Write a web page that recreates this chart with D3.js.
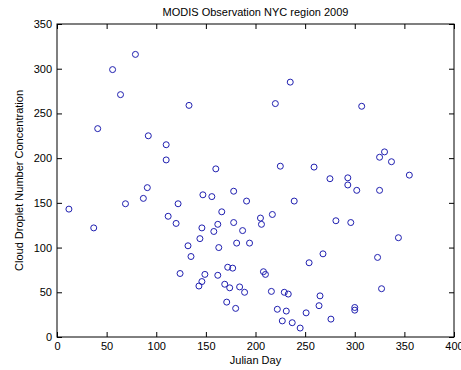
<!DOCTYPE html>
<html lang="en">
<head>
    <meta charset="UTF-8">
    <title>MODIS Observation NYC region 2009</title>
    <script src="https://d3js.org/d3.v7.min.js"></script>
    <style type="text/css">
        body {
            margin: 0;
            background: #ffffff;
        }
        svg {
            display: block;
            font-family: "Liberation Sans", Arial, Helvetica, sans-serif;
        }
    </style>
</head>
<body>
    <div id="chart"></div>
    <script type="text/javascript">
        // Julian day of each observation and its droplet concentration
        const julianDay = [
            12, 37, 41, 56, 64, 69, 79, 87, 91, 92,
            110, 110, 112, 120, 122, 124, 132, 133, 135, 143,
            144, 146, 146, 147, 149, 156, 158, 160, 162, 162,
            163, 166, 169, 171, 172, 174, 177, 178, 178, 180,
            181, 184, 187, 189, 191, 194, 205, 206, 208, 210,
            216, 217, 220, 222, 225, 227, 229, 231, 233, 235,
            237, 239, 245, 251, 254, 259, 264, 265, 268, 275,
            276, 281, 293, 293, 296, 300, 300, 302, 307, 323,
            325, 325, 327, 330, 337, 344, 355
        ];
        const concentration = [
            143, 122, 233, 299, 271, 149, 316, 155, 167, 225,
            215, 198, 135, 127, 149, 71, 102, 259, 90, 57,
            110, 122, 62, 159, 70, 157, 118, 188, 126, 69,
            100, 140, 59, 39, 78, 55, 77, 163, 128, 32,
            105, 56, 119, 50, 152, 105, 133, 126, 73, 70,
            51, 137, 261, 31, 191, 18, 50, 29, 48, 285,
            16, 152, 10, 27, 83, 190, 35, 46, 93, 177,
            20, 130, 178, 170, 128, 33, 30, 164, 258, 89,
            201, 164, 54, 207, 196, 111, 181
        ];
        const xTicks = [0, 50, 100, 150, 200, 250, 300, 350, 400];
        const yTicks = [0, 50, 100, 150, 200, 250, 300, 350];

        const points = julianDay.map((d, i) => ({day: d, value: concentration[i]}));

        const W = 461, H = 370;
        const margin = {top: 24, right: 7, bottom: 33, left: 57};
        const width = W - margin.left - margin.right,
              height = H - margin.top - margin.bottom;

        const svg = d3.select('#chart')
                      .append('svg')
                      .attr('width', W)
                      .attr('height', H);

        const g = svg.append('g')
                     .attr('transform', `translate(${margin.left},${margin.top})`);

        const x = d3.scaleLinear().domain([0, 400]).range([0, width]);
        const y = d3.scaleLinear().domain([0, 350]).range([height, 0]);

        const tickLen = 5;

        // ticks point inward, no domain path (the box is drawn below)
        const styleAxis = sel => {
            sel.select('.domain').remove();
            sel.selectAll('line').attr('stroke', '#000');
            sel.selectAll('text')
               .attr('fill', '#000')
               .style('font-size', '11px');
        };

        g.append('g')
         .attr('transform', `translate(0,${height})`)
         .call(d3.axisBottom(x).tickValues(xTicks).tickSize(-tickLen).tickPadding(5))
         .call(styleAxis);

        g.append('g')
         .call(d3.axisLeft(y).tickValues(yTicks).tickSize(-tickLen).tickPadding(5))
         .call(styleAxis);

        // top / right ticks without labels
        g.append('g')
         .call(d3.axisTop(x).tickValues(xTicks).tickSize(-tickLen).tickFormat(''))
         .call(styleAxis);

        g.append('g')
         .attr('transform', `translate(${width},0)`)
         .call(d3.axisRight(y).tickValues(yTicks).tickSize(-tickLen).tickFormat(''))
         .call(styleAxis);

        // axes box
        g.append('rect')
         .attr('x', 0)
         .attr('y', 0)
         .attr('width', width)
         .attr('height', height)
         .attr('fill', 'none')
         .attr('stroke', '#000')
         .attr('stroke-width', 1);

        // observations as open circles
        g.selectAll('circle')
         .data(points)
         .enter()
         .append('circle')
         .attr('cx', d => x(d.day))
         .attr('cy', d => y(d.value))
         .attr('r', 3)
         .attr('fill', 'none')
         .attr('stroke', '#1f1fb0')
         .attr('stroke-width', 1);

        // title and axis labels
        svg.append('text')
           .attr('x', margin.left + width / 2)
           .attr('y', 16)
           .attr('text-anchor', 'middle')
           .style('font-size', '11px')
           .text('MODIS Observation NYC region 2009');

        svg.append('text')
           .attr('x', margin.left + width / 2)
           .attr('y', 364)
           .attr('text-anchor', 'middle')
           .style('font-size', '11px')
           .text('Julian Day');

        svg.append('text')
           .attr('transform', `translate(23,${margin.top + height / 2}) rotate(-90)`)
           .attr('text-anchor', 'middle')
           .style('font-size', '11px')
           .text('Cloud Droplet Number Concentration');
    </script>
</body>
</html>
